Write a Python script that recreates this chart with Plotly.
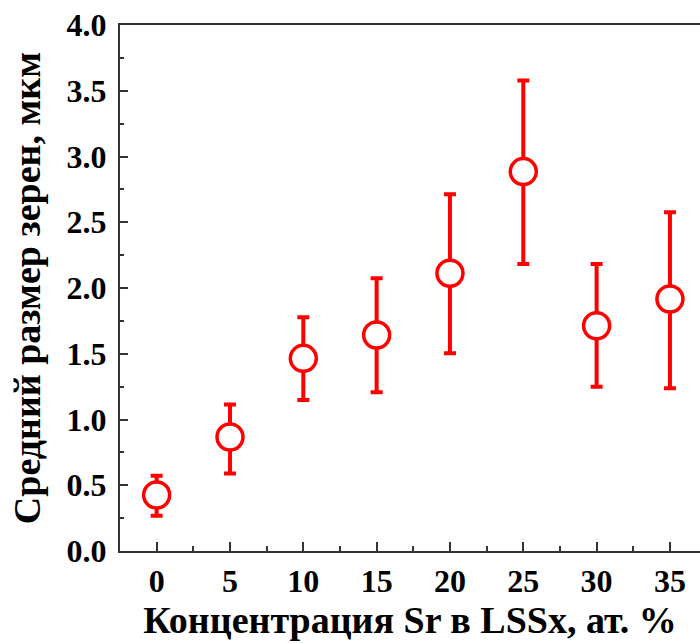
import plotly.graph_objects as go

conc = [0, 5, 10, 15, 20, 25, 30, 35]
grain = [0.426, 0.867, 1.465, 1.643, 2.112, 2.885, 1.713, 1.916]
upper = [0.573, 1.115, 1.777, 2.074, 2.713, 3.577, 2.183, 2.576]
lower = [0.268, 0.590, 1.148, 1.207, 1.503, 2.183, 1.250, 1.237]

err_plus = [u - g for u, g in zip(upper, grain)]
err_minus = [g - l for g, l in zip(grain, lower)]

font_family = "Liberation Serif"
axis_col = "#333333"

fig = go.Figure()
fig.add_trace(go.Scatter(
    x=conc, y=grain, mode="markers",
    marker=dict(symbol="circle", size=26, color="white",
                line=dict(color="#ff0000", width=3.5)),
    error_y=dict(type="data", symmetric=False, array=err_plus,
                 arrayminus=err_minus, color="#ff0000",
                 thickness=4, width=6),
    showlegend=False,
))

fig.update_layout(
    width=700, height=644,
    margin=dict(l=120, r=0, t=25, b=93),
    paper_bgcolor="white", plot_bgcolor="white",
    font=dict(family=font_family, color="black"),
    xaxis=dict(
        range=[-2.5, 37.05], tickvals=conc, ticktext=[str(c) for c in conc],
        ticks="inside", ticklen=9, tickwidth=1.5, tickcolor=axis_col,
        minor=dict(ticks="inside", ticklen=5, tickwidth=1.5, tickcolor=axis_col,
                   tickvals=[2.5, 7.5, 12.5, 17.5, 22.5, 27.5, 32.5, 37.5]),
        showline=True, linecolor=axis_col, linewidth=2, mirror=True,
        showgrid=False, zeroline=False,
        tickfont=dict(family=font_family, size=32, color="black", weight="bold"),
        ticklabelstandoff=1,
        title=dict(text="<b>Концентрация Sr в LSSx, ат. %</b>",
                   font=dict(family=font_family, size=38, color="black"),
                   standoff=6),
    ),
    yaxis=dict(
        range=[0, 4.0], tick0=0, dtick=0.5, tickformat=".1f",
        ticks="inside", ticklen=8, tickwidth=1.5, tickcolor=axis_col,
        minor=dict(ticks="inside", ticklen=4, tickwidth=1.5, tickcolor=axis_col,
                   dtick=0.25),
        showline=True, linecolor=axis_col, linewidth=2, mirror=False,
        showgrid=False, zeroline=False,
        tickfont=dict(family=font_family, size=32, color="black", weight="bold"),
        ticklabelstandoff=5,
        title=dict(text="<b>Средний размер зерен, мкм</b>",
                   font=dict(family=font_family, size=38, color="black"),
                   standoff=14),
    ),
)

fig.write_html("out.html")
